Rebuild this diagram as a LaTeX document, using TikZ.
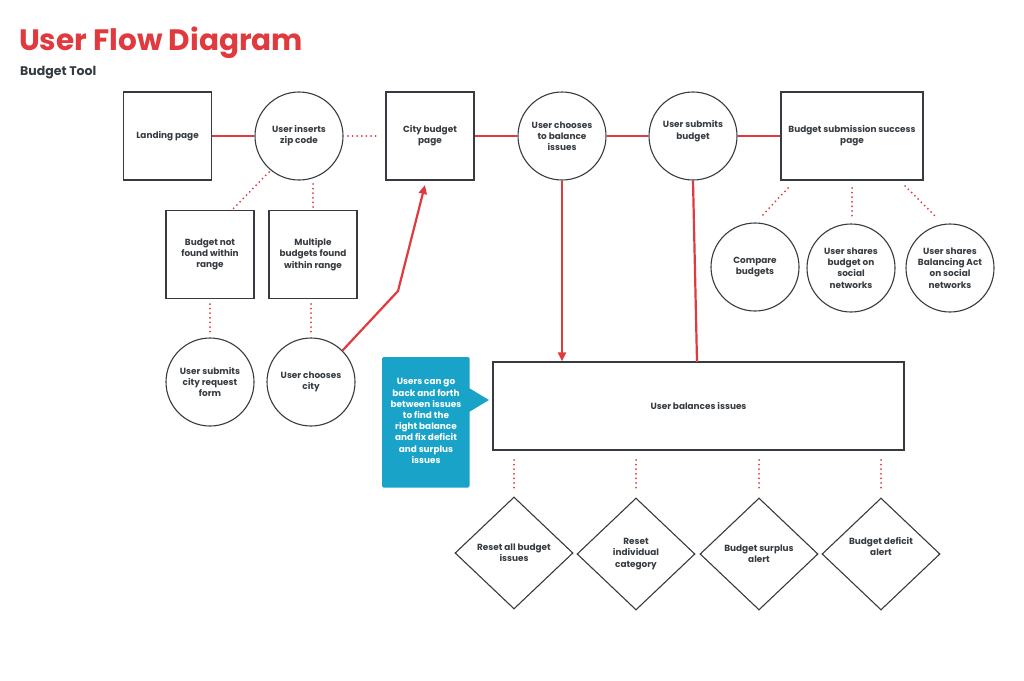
\documentclass[tikz,border=0pt]{standalone}
\usepackage{fontspec}
\setmainfont{Poppins}[BoldFont={* Bold}]
\usetikzlibrary{arrows.meta,shapes.geometric}
\definecolor{fred}{HTML}{E0393E}
\definecolor{ink}{HTML}{353B40}
\definecolor{callblue}{HTML}{1AA3C8}
\begin{document}
\begin{tikzpicture}[x=1pt,y=-1pt,
  txt/.style={font=\fontsize{8.9}{11.2}\selectfont\bfseries, text=ink, align=center},
  sq/.style={txt, draw=ink, line width=1.1pt, minimum width=88pt, minimum height=88pt, inner sep=2pt},
  circ/.style={txt, draw=ink, line width=1.1pt, circle, minimum size=88pt, inner sep=0pt},
  dia/.style={txt, draw=ink, line width=1.1pt, diamond, minimum width=118pt, minimum height=112pt, inner sep=0pt},
  link/.style={draw=fred, line width=2.2pt},
  dotl/.style={draw=fred, line width=2pt, line cap=round, dash pattern=on 0pt off 4.6pt},
  arr/.style={link, -{Triangle[length=9pt,width=8pt]}}
]
\useasboundingbox (0,0) rectangle (1024,680);
\node[anchor=base west, inner sep=0pt, text=fred, font=\fontsize{29.5}{32}\selectfont\bfseries] (title) at (19,50) {User Flow Diagram};
\node[anchor=base west, inner sep=0pt, text=ink, font=\fontsize{12.5}{14}\selectfont\bfseries] (sub) at (20,75) {Budget Tool};

% top row
\node[sq] (land) at (167.5,136) {Landing page};
\node[circ] (zip) at (299,136) {User inserts\\zip code};
\node[sq] (city) at (430,136) {City budget\\page};
\node[circ] (bal) at (562,136) {User chooses\\to balance\\issues};
\node[circ] (sub2) at (693,136) {User submits\\budget\\[1pt]};
\node[sq, minimum width=142pt] (succ) at (852,136) {Budget submission success\\page};

\draw[link] (land) -- (zip);
\draw[dotl] (348,136) -- (380,136);
\draw[link] (city) -- (bal);
\draw[link] (bal) -- (sub2);
\draw[link] (sub2) -- (succ);

% success children
\node[circ] (cmp) at (755,267) {Compare\\budgets};
\node[circ] (shb) at (851,268) {User shares\\budget on\\social\\networks};
\node[circ] (sha) at (950,268) {User shares\\Balancing Act\\on social\\networks};
\draw[dotl] (788,188) -- (762,216);
\draw[dotl] (852,188) -- (852,216);
\draw[dotl] (905,186) -- (937,218);

% zip children
\node[sq] (nf) at (210,254.5) {Budget not\\found within\\range};
\node[sq] (mb) at (313,254.5) {Multiple\\budgets found\\within range};
\draw[dotl] (269,172) -- (232,210);
\draw[dotl] (313,184) -- (313,208);
\node[circ] (req) at (210,382) {User submits\\city request\\form};
\node[circ] (cho) at (311,382) {User chooses\\city};
\draw[dotl] (210,304) -- (210,334);
\draw[dotl] (311,304) -- (311,334);

\coordinate (bend) at (398,291);
\coordinate (tip) at (425,185);
\draw[arr] (cho.45) -- (bend) -- (tip);

% balance
\node[txt, draw=ink, line width=1.1pt, minimum width=411pt, minimum height=88pt] (ubi) at (698.5,406) {User balances issues};
\draw[arr] (bal) -- (ubi.north -| bal);
\draw[link] (sub2.south) -- (697,362);

% callout
\fill[callblue, rounded corners=1.5pt] (382,357) rectangle (469.5,487.5);
\fill[callblue] (469,388) -- (489,400) -- (469,412) -- cycle;
\node[font=\fontsize{8.9}{11.2}\selectfont\bfseries, text=white, align=center] (call) at (426,421) {Users can go\\back and forth\\between issues\\to find the\\right balance\\and fix deficit\\and surplus\\issues};

% diamonds
\node[dia] (d1) at (514,553) {Reset all budget\\issues};
\node[dia] (d2) at (636,554) {Reset\\individual\\category};
\node[dia] (d3) at (759,554) {Budget surplus\\alert};
\node[dia] (d4) at (881,554) {Budget deficit\\alert\\[4pt]};
\foreach \x in {514,636,759,881} \draw[dotl] (\x,460) -- (\x,490);
\end{tikzpicture}
\end{document}
